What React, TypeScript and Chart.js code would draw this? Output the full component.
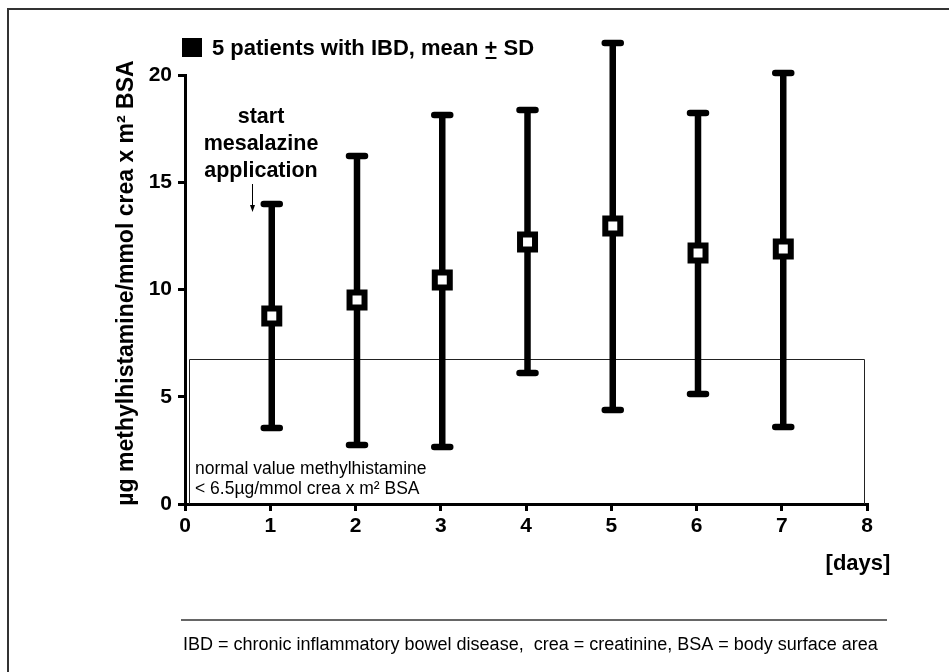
import React, { useEffect, useRef } from "react";
import { Chart, registerables } from "chart.js";

Chart.register(...registerables);

// ---- data ----
const days = [1, 2, 3, 4, 5, 6, 7];
const means = [8.76, 9.51, 10.44, 12.21, 12.96, 11.7, 11.89];
const upperSD = [13.99, 16.22, 18.14, 18.37, 21.49, 18.23, 20.09];
const lowerSD = [3.54, 2.75, 2.66, 6.11, 4.38, 5.13, 3.59];
const xTickValues = [0, 1, 2, 3, 4, 5, 6, 7, 8];
const yTickValues = [0, 5, 10, 15, 20];
const normalBoxX = [0.05, 7.97];
const normalBoxTop = 6.75;

const legendText = "5 patients with IBD, mean ";
const yTitle = "µg methylhistamine/mmol crea x m² BSA";
const xTitle = "[days]";
const startLines = ["start", "mesalazine", "application"];
const normalLines = ["normal value methylhistamine", "< 6.5µg/mmol crea x m² BSA"];
const footnote = "IBD = chronic inflammatory bowel disease,  crea = creatinine, BSA = body surface area";

const FONT = "'Liberation Sans', Arial, Helvetica, sans-serif";

const annotations = {
  id: "annotations",
  beforeDatasetsDraw(chart: any) {
    const ctx = chart.ctx;
    const xs = chart.scales.x;
    const ys = chart.scales.y;
    ctx.save();
    // normal box
    ctx.strokeStyle = "#222";
    ctx.lineWidth = 1;
    const bx0 = Math.round(xs.getPixelForValue(normalBoxX[0])) + 0.5;
    const bx1 = Math.round(xs.getPixelForValue(normalBoxX[1])) + 0.5;
    const by0 = Math.round(ys.getPixelForValue(normalBoxTop)) + 0.5;
    const by1 = ys.getPixelForValue(0);
    ctx.beginPath();
    ctx.moveTo(bx0, by1);
    ctx.lineTo(bx0, by0);
    ctx.lineTo(bx1, by0);
    ctx.lineTo(bx1, by1);
    ctx.stroke();
    // error bars
    ctx.strokeStyle = "#000";
    ctx.lineWidth = 6.5;
    for (let i = 0; i < days.length; i++) {
      const x = xs.getPixelForValue(days[i]) + 1.5;
      const yt = ys.getPixelForValue(upperSD[i]);
      const yb = ys.getPixelForValue(lowerSD[i]);
      ctx.lineCap = "butt";
      ctx.beginPath();
      ctx.moveTo(x, yt);
      ctx.lineTo(x, yb);
      ctx.stroke();
      ctx.lineCap = "round";
      ctx.beginPath();
      ctx.moveTo(x - 8, yt);
      ctx.lineTo(x + 8, yt);
      ctx.moveTo(x - 8, yb);
      ctx.lineTo(x + 8, yb);
      ctx.stroke();
    }
    ctx.restore();
  },
  afterDraw(chart: any) {
    const ctx = chart.ctx;
    ctx.save();
    // frame (top and left)
    ctx.strokeStyle = "#333";
    ctx.lineWidth = 2;
    ctx.beginPath();
    ctx.moveTo(8, 672);
    ctx.lineTo(8, 9);
    ctx.lineTo(949, 9);
    ctx.stroke();

    // legend
    ctx.fillStyle = "#000";
    ctx.fillRect(182, 38, 20, 19);
    ctx.font = `bold 22px ${FONT}`;
    ctx.textAlign = "left";
    ctx.textBaseline = "alphabetic";
    ctx.fillText(legendText, 212, 55);
    const w1 = ctx.measureText(legendText).width;
    ctx.fillText("+", 212 + w1, 55);
    const wp = ctx.measureText("+").width;
    ctx.fillRect(212 + w1 + 1, 57, wp - 2, 2);
    ctx.fillText(" SD", 212 + w1 + wp, 55);

    // y title
    ctx.save();
    ctx.translate(127, 283);
    ctx.rotate(-Math.PI / 2);
    ctx.textAlign = "center";
    ctx.textBaseline = "middle";
    ctx.font = `bold 23px ${FONT}`;
    ctx.fillText(yTitle, 0, 0);
    ctx.restore();

    // x title
    ctx.font = `bold 22px ${FONT}`;
    ctx.textAlign = "center";
    ctx.textBaseline = "middle";
    ctx.fillText(xTitle, 858, 564);

    // start mesalazine application
    ctx.font = `bold 21.5px ${FONT}`;
    ctx.textBaseline = "alphabetic";
    startLines.forEach((t, i) => ctx.fillText(t, 261, 123 + i * 27));
    // arrow
    ctx.lineWidth = 1;
    ctx.strokeStyle = "#000";
    ctx.beginPath();
    ctx.moveTo(252.5, 184);
    ctx.lineTo(252.5, 207);
    ctx.stroke();
    ctx.beginPath();
    ctx.moveTo(250, 205);
    ctx.lineTo(255, 205);
    ctx.lineTo(252.5, 212);
    ctx.closePath();
    ctx.fill();

    // normal value text
    ctx.font = `17.5px ${FONT}`;
    ctx.textAlign = "left";
    ctx.textBaseline = "middle";
    normalLines.forEach((t, i) => ctx.fillText(t, 195, 469 + i * 20));

    // separator
    ctx.strokeStyle = "#333";
    ctx.lineWidth = 1.5;
    ctx.beginPath();
    ctx.moveTo(181, 620);
    ctx.lineTo(887, 620);
    ctx.stroke();

    // footnote
    ctx.font = `18px ${FONT}`;
    ctx.textAlign = "left";
    ctx.fillText(footnote, 183, 645);
    ctx.restore();
  },
};

export default function App() {
  const ref = useRef<HTMLCanvasElement | null>(null);
  useEffect(() => {
    if (!ref.current) return;
    const tickFont = { family: FONT, size: 21, weight: "bold" as const };
    const chart = new Chart(ref.current, {
      type: "line",
      data: {
        datasets: [
          {
            data: days.map((d, i) => ({ x: d + 0.018, y: means[i] })),
            showLine: false,
            pointStyle: "rect",
            pointRadius: 10.6,
            pointHoverRadius: 10.6,
            pointBorderWidth: 6,
            pointBackgroundColor: "#fff",
            pointBorderColor: "#000",
            clip: false as any,
          },
        ],
      },
      plugins: [annotations],
      options: {
        animation: false,
        responsive: false,
        events: [],
        layout: { padding: { left: 0, top: 75, right: 82, bottom: 0 } },
        plugins: { legend: { display: false }, tooltip: { enabled: false } },
        scales: {
          x: {
            type: "linear",
            min: 0,
            max: 8,
            afterBuildTicks: (s: any) => {
              s.ticks = xTickValues.map((v) => ({ value: v }));
            },
            afterFit: (s: any) => {
              s.height = 168;
            },
            grid: { display: true, drawOnChartArea: false, drawTicks: true, tickLength: 7, color: "#000", lineWidth: 3 },
            border: { display: true, color: "#000", width: 3 },
            ticks: { color: "#000", font: tickFont, padding: 3, maxRotation: 0 },
          },
          y: {
            type: "linear",
            min: 0,
            max: 20,
            afterBuildTicks: (s: any) => {
              s.ticks = yTickValues.map((v) => ({ value: v }));
            },
            afterFit: (s: any) => {
              s.width = 185;
            },
            grid: { display: true, drawOnChartArea: false, drawTicks: true, tickLength: 7, color: "#000", lineWidth: 3 },
            border: { display: true, color: "#000", width: 3 },
            ticks: { color: "#000", font: tickFont, padding: 6 },
          },
        },
      },
    });
    return () => chart.destroy();
  }, []);
  return (
    <div style={{ position: "absolute", left: 0, top: 0, width: 949, height: 672, background: "#fff" }}>
      <canvas ref={ref} width={949} height={672} style={{ display: "block" }} />
    </div>
  );
}
